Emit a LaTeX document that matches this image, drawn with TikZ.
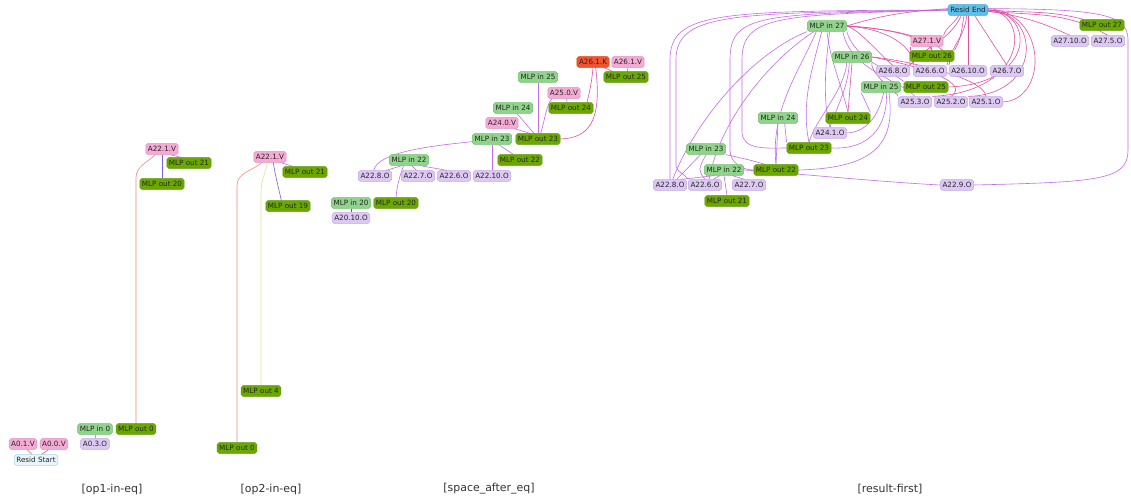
\documentclass[tikz,border=0pt]{standalone}
\usepackage{fontspec}
\setmainfont{DejaVu Sans}
\pgfdeclarelayer{back}
\pgfdeclarelayer{bg}
\pgfsetlayers{back,bg,main}
\definecolor{inF}{HTML}{8FD48A}
\definecolor{inD}{HTML}{72BE6E}
\definecolor{outF}{HTML}{6AA800}
\definecolor{outD}{HTML}{5A9200}
\definecolor{vF}{HTML}{F5AAD5}
\definecolor{vD}{HTML}{E08CBE}
\definecolor{oF}{HTML}{DCC8F2}
\definecolor{oD}{HTML}{C2A8E2}
\definecolor{kF}{HTML}{F2542D}
\definecolor{kD}{HTML}{D84020}
\definecolor{reF}{HTML}{5BC0EB}
\definecolor{reD}{HTML}{3AA8D8}
\definecolor{rsF}{HTML}{E8F5FB}
\definecolor{rsD}{HTML}{A8D4EA}
\definecolor{cS}{HTML}{E8907A}
\definecolor{cB}{HTML}{7A5CE6}
\definecolor{cP}{HTML}{C46CE4}
\definecolor{cM}{HTML}{E24FA8}
\definecolor{cY}{HTML}{E4E48C}
\definecolor{cR}{HTML}{E8604C}
\definecolor{cV}{HTML}{6A50C8}
\tikzset{
 base/.style={draw, rounded corners=1.4pt, line width=0.35pt, inner xsep=1.6pt, inner ysep=0pt, minimum height=8pt, text=black!85, font=\fontsize{5.4}{6}\selectfont},
 sIn/.style={base, fill=inF, draw=inD},
 sOut/.style={base, fill=outF, draw=outD},
 sV/.style={base, fill=vF, draw=vD},
 sO/.style={base, fill=oF, draw=oD},
 sK/.style={base, fill=kF, draw=kD},
 sRE/.style={base, fill=reF, draw=reD},
 sRS/.style={base, fill=rsF, draw=rsD},
 ed/.style={line width=0.45pt},
 eS/.style={ed, draw=cS},
 eB/.style={ed, draw=cB},
 eP/.style={ed, draw=cP},
 eM/.style={ed, draw=cM},
 eY/.style={ed, draw=cY},
 eR/.style={ed, draw=cR},
 eV/.style={ed, draw=cV},
 lab/.style={font=\fontsize{8.2}{10}\selectfont, text=black!80},
}
\begin{document}
\begin{tikzpicture}[x=0.75pt,y=-0.75pt]
\useasboundingbox (0,0) rectangle (1131,499);
\begin{pgfonlayer}{back}
\fill[white] (0,0) rectangle (1131,499);
\end{pgfonlayer}
% ---------- panel 1
\node[sV] (p1a22v) at (162,149) {A22.1.V};
\node[sOut] (p1o21) at (189,163) {MLP out 21};
\node[sOut] (p1o20) at (162,184) {MLP out 20};
\node[sIn] (p1in0) at (95,429) {MLP in 0};
\node[sOut] (p1o0) at (136,429) {MLP out 0};
\node[sO] (p1a03) at (95,444) {A0.3.O};
\node[sV] (p1a01) at (23,444) {A0.1.V};
\node[sV] (p1a00) at (54,444) {A0.0.V};
\node[sRS] (p1rs) at (36,460) {Resid Start};
% ---------- panel 2
\node[sV] (p2a22v) at (270,157) {A22.1.V};
\node[sOut] (p2o21) at (305,172) {MLP out 21};
\node[sOut] (p2o19) at (288,206) {MLP out 19};
\node[sOut] (p2o4) at (261,391) {MLP out 4};
\node[sOut] (p2o0) at (237,448) {MLP out 0};
% ---------- panel 3
\node[sK] (p3k) at (593,62) {A26.1.K};
\node[sV] (p3v26) at (628,62) {A26.1.V};
\node[sOut] (p3o25) at (626,77) {MLP out 25};
\node[sIn] (p3in25) at (538,77) {MLP in 25};
\node[sV] (p3v25) at (564,93) {A25.0.V};
\node[sOut] (p3o24) at (571,108) {MLP out 24};
\node[sIn] (p3in24) at (513,108) {MLP in 24};
\node[sV] (p3v24) at (502,123) {A24.0.V};
\node[sIn] (p3in23) at (492,139) {MLP in 23};
\node[sOut] (p3o23) at (538,139) {MLP out 23};
\node[sOut] (p3o22) at (520,160) {MLP out 22};
\node[sIn] (p3in22) at (409,160) {MLP in 22};
\node[sO] (p3a228) at (375,176) {A22.8.O};
\node[sO] (p3a227) at (418,176) {A22.7.O};
\node[sO] (p3a226) at (454,176) {A22.6.O};
\node[sO] (p3a2210) at (492,176) {A22.10.O};
\node[sIn] (p3in20) at (351,203) {MLP in 20};
\node[sOut] (p3o20) at (396,203) {MLP out 20};
\node[sO] (p3a2010) at (351,218) {A20.10.O};
% ---------- panel 4
\node[sRE] (re) at (968,10) {Resid End};
\node[sIn] (in27) at (827,26) {MLP in 27};
\node[sOut] (o27) at (1102,25) {MLP out 27};
\node[sO] (a2710) at (1070,41) {A27.10.O};
\node[sO] (a275) at (1108,41) {A27.5.O};
\node[sV] (v271) at (927,41) {A27.1.V};
\node[sOut] (o26) at (932,56) {MLP out 26};
\node[sIn] (in26) at (852,57) {MLP in 26};
\node[sO] (a268) at (893,71) {A26.8.O};
\node[sO] (a266) at (930,71) {A26.6.O};
\node[sO] (a2610) at (968,71) {A26.10.O};
\node[sO] (a267) at (1007,71) {A26.7.O};
\node[sIn] (in25) at (881,87) {MLP in 25};
\node[sOut] (o25) at (926,87) {MLP out 25};
\node[sO] (a253) at (915,102) {A25.3.O};
\node[sO] (a252) at (951,102) {A25.2.O};
\node[sO] (a251) at (986,102) {A25.1.O};
\node[sIn] (in24) at (778,118) {MLP in 24};
\node[sOut] (o24) at (848,118) {MLP out 24};
\node[sO] (a241) at (830,133) {A24.1.O};
\node[sOut] (o23) at (809,148) {MLP out 23};
\node[sIn] (in23) at (706,149) {MLP in 23};
\node[sOut] (o22) at (776,170) {MLP out 22};
\node[sIn] (in22) at (724,170) {MLP in 22};
\node[sO] (a228) at (670,185) {A22.8.O};
\node[sO] (a226) at (705,185) {A22.6.O};
\node[sO] (a227) at (749,185) {A22.7.O};
\node[sOut] (o21) at (727,201) {MLP out 21};
\node[sO] (a229) at (957,185) {A22.9.O};
% ---------- labels
\node[lab] (l1) at (112,489) {[op1-in-eq]};
\node[lab] (l2) at (271,489) {[op2-in-eq]};
\node[lab] (l3) at (489,489) {[space\_after\_eq]};
\node[lab] (l4) at (890,489) {[result-first]};

\begin{pgfonlayer}{bg}
% panel 1
\draw[eS] (p1o0.north) -- (136,178) to[out=90,in=-135] ([xshift=-5pt]p1a22v.south);
\draw[eB] (p1o20.north) -- (p1a22v.south);
\draw[eP] ([xshift=6pt]p1a22v.south) -- ([xshift=-6pt]p1o21.north);
\draw[eS] (p1in0.south) -- (p1a03.north);
\draw[eR] ([xshift=3pt]p1a01.south) -- ([xshift=-3pt]p1rs.north);
\draw[eR] ([xshift=-4pt]p1a00.south) -- ([xshift=4pt]p1rs.north);
% panel 2
\draw[eS] (p2o0.north) -- (237,186) to[out=90,in=-140] ([xshift=-6pt]p2a22v.south);
\draw[eY] (p2o4.north) -- (261,192) to[out=90,in=-100] ([xshift=-2pt]p2a22v.south);
\draw[eB] ([xshift=-5pt]p2o19.north) .. controls (278,185) and (275,175) .. ([xshift=2.5pt]p2a22v.south);
\draw[eP] ([xshift=8pt]p2a22v.south) -- ([xshift=-9pt]p2o21.north);
% panel 3
\draw[eM] ([xshift=8pt]p3k.south) -- ([xshift=-10pt]p3o25.north);
\draw[eM] (p3v26.south) -- ([xshift=1pt]p3o25.north);
\draw[eM] ([xshift=12pt]p3o24.north) .. controls (590,90) and (592,80) .. (p3k.south);
\draw[eM] (p3o23.east) .. controls (590,138) and (602,120) .. ([xshift=2pt]p3k.south);
\draw[eP] ([xshift=-3pt]p3o24.north) -- ([xshift=2pt]p3v25.south);
\draw[eP] ([xshift=2pt]p3o23.north) .. controls (545,120) and (546,105) .. ([xshift=-9pt]p3v25.south);
\draw[eP] (p3o23.north) -- (p3in25.south);
\draw[eP] ([xshift=-3pt]p3o23.north) -- ([xshift=3pt]p3in24.south);
\draw[eP] ([xshift=-6pt]p3o23.north) -- ([xshift=9pt]p3v24.south);
\draw[eP] ([xshift=-1pt]p3a228.north) .. controls (378,152) and (430,146) .. ([yshift=-2pt]p3in23.west);
\draw[eP] ([xshift=-5pt]p3o22.north) -- ([xshift=5pt]p3in23.south);
\draw[eP] (p3a2210.north) -- (p3in23.south);
\draw[eP] ([xshift=8pt]p3a228.north) -- ([xshift=-5pt]p3in22.south);
\draw[eP] ([xshift=-1pt]p3a227.north) -- ([xshift=2pt]p3in22.south);
\draw[eP] ([xshift=-5pt]p3a226.north) -- ([xshift=8pt]p3in22.south);
\draw[eP] ([xshift=0pt]p3o20.north) .. controls (397,185) and (400,175) .. ([xshift=-4pt]p3in22.south);
\draw[eV] (p3in20.south) -- (p3a2010.north);
% panel 4: into Resid End
\draw[eM] (re.east) to[out=-5,in=165] ([xshift=3pt]o27.north west);
\draw[eM] ([yshift=-1pt]re.east) to[out=-8,in=155] (a2710.north);
\draw[eM] ([yshift=-1pt]re.east) to[out=-5,in=150] (a275.north);
\draw[eM] ([xshift=5pt]re.south) -- (a267.north);
\draw[eM] (re.south) -- (a2610.north);
\draw[eM] ([xshift=-1pt]re.south) to[out=-95,in=75] (a266.north east);
\draw[eM] ([xshift=-3pt]re.south) to[out=-100,in=60] (o26.north east);
\draw[eM] ([xshift=-5pt]re.south) to[out=-115,in=50] (a268.north east);
\draw[eM] ([xshift=-7pt]re.south) to[out=-120,in=70] (v271.north east);
\draw[eM] ([yshift=1pt]re.east) .. controls (1048,12) and (1048,100) .. (a251.east);
\draw[eM] (re.east) .. controls (1042,12) and (1042,95) .. (a252.north east);
\draw[eM] (re.east) .. controls (1036,12) and (1036,84) .. (o25.east);
\draw[eM] (re.east) .. controls (1030,12) and (1030,92) .. (a253.north east);
\draw[eP] (re.west) .. controls (720,11) and (670,11) .. (670,60) -- (a228.north);
\draw[eP] (re.west) .. controls (730,13) and (676,13) .. (676,60) -- (676,165) to[out=-90,in=120] (a226.north west);
\draw[eP] (re.west) .. controls (760,14) and (730,14) .. (730,60) -- (730,150) to[out=-90,in=180] (o22.west);
\draw[eP] (re.west) .. controls (780,15) and (742,15) .. (742,60) -- (742,132) to[out=-90,in=180] (o23.west);
\draw[eM] ([yshift=1pt]re.west) .. controls (900,12) and (880,16) .. (in27.east);
\draw[eP] (a229.east) .. controls (1100,182) and (1128,180) .. (1128,150) -- (1128,40) .. controls (1128,14) and (1100,9) .. ([yshift=1pt]re.east);
% into MLP in 27
\draw[eP] ([xshift=2pt]a228.north) .. controls (700,110) and (760,50) .. (in27.south west);
\draw[eP] ([xshift=3pt]a226.north) .. controls (720,120) and (770,60) .. ([xshift=5pt]in27.south west);
\draw[eP] (o22.north) .. controls (770,110) and (800,70) .. ([xshift=-8pt]in27.south);
\draw[eP] (o23.north) .. controls (800,100) and (815,60) .. ([xshift=-4pt]in27.south);
\draw[eP] (o24.north) .. controls (840,80) and (830,60) .. (in27.south);
\draw[eP] (a241.north) .. controls (822,100) and (826,60) .. ([xshift=2pt]in27.south);
\draw[eM] (in27.east) .. controls (860,30) and (880,55) .. (a268.north);
\draw[eM] (in27.east) .. controls (880,28) and (925,35) .. (o26.north);
\draw[eM] (in27.east) .. controls (900,30) and (915,55) .. (a266.north west);
\draw[eM] (in27.east) .. controls (920,30) and (955,50) .. (a2610.north west);
\draw[eP] (in27.south east) .. controls (855,60) and (890,70) .. (o25.north west);
\draw[eP] ([xshift=-3pt]in27.south east) .. controls (850,70) and (900,80) .. (a253.north);
% into MLP in 26
\draw[eM] (in26.south) -- (o24.north);
\draw[eP] ([xshift=-2pt]in26.south) .. controls (848,90) and (835,110) .. (a241.north);
\draw[eP] ([xshift=-4pt]in26.south) .. controls (845,90) and (815,120) .. (o23.north);
\draw[eM] (in26.south east) .. controls (870,75) and (900,95) .. (a253.north west);
\draw[eM] (in26.east) .. controls (900,62) and (975,80) .. (a252.north);
\draw[eM] (in26.east) .. controls (905,60) and (985,78) .. (a251.north);
% into MLP in 25
\draw[eP] (o24.north east) -- (in25.south west);
\draw[eP] (a241.east) .. controls (870,132) and (880,110) .. ([xshift=2pt]in25.south);
\draw[eP] (o23.east) .. controls (875,150) and (888,120) .. ([xshift=4pt]in25.south);
\draw[eP] (o22.east) .. controls (880,168) and (895,140) .. ([xshift=6pt]in25.south);
% into MLP in 24
\draw[eP] (o22.north) -- (in24.south);
\draw[eP] (o23.north west) -- ([xshift=5pt]in24.south);
% into MLP in 23
\draw[eP] ([xshift=5pt]a228.north) -- ([xshift=-4pt]in23.south);
\draw[eP] (a226.north) .. controls (698,170) .. (in23.south);
\draw[eP] ([xshift=-8pt]o22.north) .. controls (750,160) .. (in23.south east);
% into MLP in 22
\draw[eP] (o21.north) -- (in22.south);
\draw[eP] ([xshift=8pt]a228.north) -- ([xshift=-7pt]in22.south);
\draw[eP] ([xshift=6pt]a226.north) -- ([xshift=-3pt]in22.south);
\draw[eP] ([xshift=-3pt]a227.north) -- ([xshift=6pt]in22.south);
\draw[eP] (a229.west) .. controls (880,182) and (780,172) .. (in22.east);
% A27.1.V
\draw[eM] (o26.north) -- ([xshift=3pt]v271.south);
\draw[eM] (a268.north east) -- (v271.south west);
\end{pgfonlayer}
\end{tikzpicture}
\end{document}
